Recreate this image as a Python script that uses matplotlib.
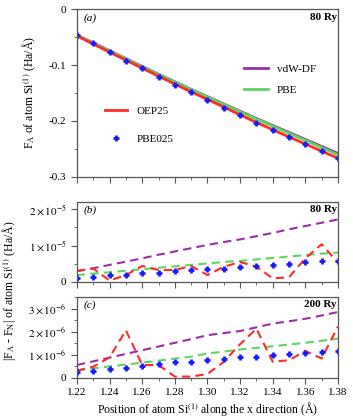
import numpy as np
import matplotlib
matplotlib.use("Agg")
import matplotlib.pyplot as plt
from matplotlib.ticker import MultipleLocator, FuncFormatter

plt.rcParams['font.family'] = ['Liberation Serif', 'DejaVu Serif']
plt.rcParams['mathtext.fontset'] = 'stix'
plt.rcParams['font.size'] = 8

# positions of atom Si(1)
x = [1.22, 1.23, 1.24, 1.25, 1.26, 1.27, 1.28, 1.29, 1.30,
     1.31, 1.32, 1.33, 1.34, 1.35, 1.36, 1.37, 1.38]

# (a) forces (Ha/A)
force_vdw = [-0.047, -0.0605, -0.0745, -0.0885, -0.1025, -0.1165, -0.130, -0.1435, -0.1565,
             -0.1695, -0.1825, -0.1955, -0.208, -0.2205, -0.233, -0.2455, -0.258]
force_pbe = [-0.047, -0.061, -0.075, -0.089, -0.103, -0.117, -0.1305, -0.144, -0.157,
             -0.170, -0.1835, -0.1965, -0.209, -0.222, -0.2345, -0.2475, -0.2605]
force_oep = [-0.048, -0.0625, -0.077, -0.0915, -0.1055, -0.120, -0.134, -0.148, -0.1615,
             -0.175, -0.189, -0.2025, -0.2155, -0.2285, -0.241, -0.254, -0.2665]
force_pbe0 = [-0.047, -0.061, -0.077, -0.092, -0.106, -0.121, -0.135, -0.149, -0.162,
              -0.176, -0.190, -0.203, -0.216, -0.229, -0.241, -0.254, -0.266]

# (b) |FA - FN| at 80 Ry, units of 1e-5
b_vdw = [0.30, 0.38, 0.47, 0.56, 0.65, 0.75, 0.84, 0.93, 1.02,
         1.10, 1.17, 1.26, 1.35, 1.45, 1.54, 1.63, 1.72]
b_pbe = [0.19, 0.23, 0.27, 0.31, 0.35, 0.39, 0.43, 0.47, 0.51,
         0.55, 0.58, 0.62, 0.66, 0.70, 0.74, 0.78, 0.81]
b_oep = [0.30, 0.37, 0.04, 0.19, 0.44, 0.33, 0.33, 0.44, 0.19,
         0.42, 0.55, 0.42, 0.10, 0.13, 0.65, 1.04, 0.53]
b_pbe0 = [0.12, 0.15, 0.18, 0.19, 0.24, 0.26, 0.29, 0.33, 0.35,
          0.37, 0.41, 0.44, 0.46, 0.49, 0.54, 0.57, 0.58]

# (c) |FA - FN| at 200 Ry, units of 1e-6
c_vdw = [0.56, 0.72, 0.88, 1.04, 1.20, 1.36, 1.52, 1.68, 1.85,
         1.94, 2.03, 2.19, 2.35, 2.45, 2.56, 2.70, 2.85]
c_pbe = [0.34, 0.42, 0.50, 0.58, 0.66, 0.75, 0.84, 0.92, 1.06,
         1.14, 1.23, 1.30, 1.37, 1.45, 1.52, 1.61, 1.70]
c_oep = [0.31, 0.49, 0.89, 2.06, 0.56, 0.56, 0.06, 0.06, 0.17,
         0.70, 1.46, 2.13, 0.70, 0.77, 1.17, 0.84, 2.23]
c_pbe0 = [0.27, 0.31, 0.37, 0.44, 0.53, 0.59, 0.67, 0.70, 0.76,
          0.82, 0.89, 0.92, 0.99, 1.03, 1.10, 1.13, 1.17]

RED = '#ff2a2a'
BLUE = '#1a1aff'
PURPLE = '#9a2fa6'
GREEN = '#5cd65c'
FRAME = '#555555'


def sci_fmt(exp):
    def f(v, pos):
        m = int(round(v / 10**exp))
        if m == 0:
            return '0'
        return r'$%d\times10^{%d}$' % (m, exp)
    return FuncFormatter(f)


def style(ax):
    for s in ax.spines.values():
        s.set_color(FRAME)
        s.set_linewidth(0.9)
    ax.tick_params(which='both', direction='out', color=FRAME, labelsize=8)
    ax.tick_params(which='major', length=4)
    ax.tick_params(which='minor', length=2.5)
    ax.set_xlim(1.22, 1.38)
    ax.xaxis.set_major_locator(MultipleLocator(0.02))
    ax.xaxis.set_minor_locator(MultipleLocator(0.01))


fig = plt.figure(figsize=(3.53, 4.19), dpi=100)
L, W = 0.218, 0.7395
ax_a = fig.add_axes([L, 0.5776, W, 0.4009])
ax_b = fig.add_axes([L, 0.327, W, 0.1909])
ax_c = fig.add_axes([L, 0.0979, W, 0.1933])

# panel (a)
ax_a.plot(x, force_vdw, color=PURPLE, lw=2.0, label='vdW-DF')
ax_a.plot(x, force_pbe, color=GREEN, lw=2.0, label='PBE')
ax_a.plot(x, force_oep, color=RED, lw=2.0, label='OEP25')
ax_a.plot(x, force_pbe0, ls='none', marker='+', ms=5, mew=2, color=BLUE, label='PBE025')
style(ax_a)
ax_a.set_ylim(-0.3, 0)
ax_a.yaxis.set_major_locator(MultipleLocator(0.1))
ax_a.yaxis.set_minor_locator(MultipleLocator(0.05))
ax_a.yaxis.set_major_formatter(FuncFormatter(lambda v, p: '0' if abs(v) < 1e-9 else '%.1f' % v))
ax_a.tick_params(labelbottom=False)
ax_a.set_ylabel(r'F$_{\rm A}$ of atom Si$^{(1)}$ (Ha/Å)', fontsize=8.5)
ax_a.yaxis.set_label_coords(-0.15, 0.5)

h, lab = ax_a.get_legend_handles_labels()
leg1 = ax_a.legend([h[2], h[3]], [lab[2], lab[3]], loc='center left',
                   bbox_to_anchor=(0.07, 0.31), frameon=False, fontsize=8,
                   handlelength=2.0, labelspacing=1.6)
ax_a.add_artist(leg1)
ax_a.legend([h[0], h[1]], [lab[0], lab[1]], loc='center left',
            bbox_to_anchor=(0.6, 0.58), frameon=False, fontsize=8,
            handlelength=2.2, labelspacing=1.0)
ax_a.text(0.025, 0.975, '(a)', transform=ax_a.transAxes, style='italic', va='top', ha='left')
ax_a.text(0.995, 0.975, '80 Ry', transform=ax_a.transAxes, weight='bold', va='top', ha='right')

# panel (b)
scale_b = 1e-5
ax_b.plot(x, np.array(b_vdw) * scale_b, color=PURPLE, lw=1.5, ls=(0, (4, 2.5)))
ax_b.plot(x, np.array(b_pbe) * scale_b, color=GREEN, lw=1.5, ls=(0, (4, 2.5)))
ax_b.plot(x, np.array(b_oep) * scale_b, color=RED, lw=1.5, ls=(0, (4, 2.5)))
ax_b.plot(x, np.array(b_pbe0) * scale_b, ls='none', marker='+', ms=5, mew=2, color=BLUE)
style(ax_b)
ax_b.set_ylim(0, 2.2e-5)
ax_b.yaxis.set_major_locator(MultipleLocator(1e-5))
ax_b.yaxis.set_minor_locator(MultipleLocator(0.5e-5))
ax_b.yaxis.set_major_formatter(sci_fmt(-5))
ax_b.yaxis.get_offset_text().set_visible(False)
ax_b.tick_params(labelbottom=False)
ax_b.text(0.025, 0.96, '(b)', transform=ax_b.transAxes, style='italic', va='top', ha='left')
ax_b.text(0.995, 0.96, '80 Ry', transform=ax_b.transAxes, weight='bold', va='top', ha='right')

# panel (c)
scale_c = 1e-6
ax_c.plot(x, np.array(c_vdw) * scale_c, color=PURPLE, lw=1.5, ls=(0, (4, 2.5)))
ax_c.plot(x, np.array(c_pbe) * scale_c, color=GREEN, lw=1.5, ls=(0, (4, 2.5)))
ax_c.plot(x, np.array(c_oep) * scale_c, color=RED, lw=1.5, ls=(0, (4, 2.5)))
ax_c.plot(x, np.array(c_pbe0) * scale_c, ls='none', marker='+', ms=5, mew=2, color=BLUE)
style(ax_c)
ax_c.set_ylim(0, 3.5e-6)
ax_c.yaxis.set_major_locator(MultipleLocator(1e-6))
ax_c.yaxis.set_minor_locator(MultipleLocator(0.5e-6))
ax_c.yaxis.set_major_formatter(sci_fmt(-6))
ax_c.yaxis.get_offset_text().set_visible(False)
ax_c.xaxis.set_major_formatter(FuncFormatter(lambda v, p: '%.2f' % v))
ax_c.text(0.025, 0.96, '(c)', transform=ax_c.transAxes, style='italic', va='top', ha='left')
ax_c.text(0.995, 0.96, '200 Ry', transform=ax_c.transAxes, weight='bold', va='top', ha='right')
ax_c.set_xlabel(r'Position of atom Si$^{(1)}$ along the x direction (Å)', fontsize=8.5, labelpad=2)

fig.text(0.025, 0.305, r'|F$_{\rm A}$ - F$_{\rm N}$| of atom Si$^{(1)}$ (Ha/Å)',
         rotation=90, va='center', ha='center', fontsize=8.5)

fig.savefig('out.png', dpi=100)
